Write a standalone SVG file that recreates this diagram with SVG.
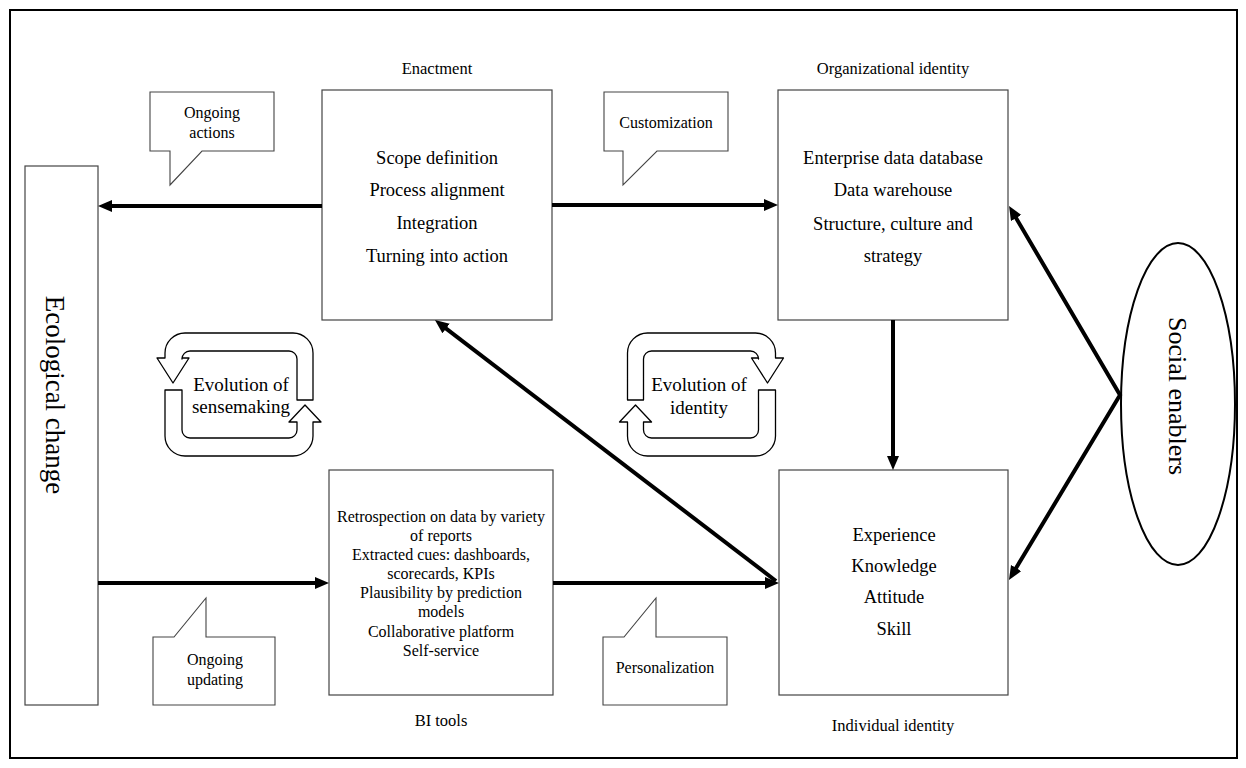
<svg xmlns="http://www.w3.org/2000/svg" width="1246" height="768" viewBox="0 0 1246 768">
<defs>
<style>
text{font-family:"Liberation Serif","Times New Roman",serif;fill:#000;text-anchor:middle}
.box{fill:#fff;stroke:#444;stroke-width:1.2}
.call{fill:#fff;stroke:#444;stroke-width:1.1}
.ttl{font-size:16.5px}
.t18{font-size:18.5px}
.t16{font-size:16px}
.ev{font-size:19px}
.bi{font-size:16px}
.conn{stroke:#000;stroke-width:4;fill:none}
.loop{fill:#fff;stroke:#000;stroke-width:1.3;stroke-linejoin:round}
</style>
<marker id="ah" markerUnits="userSpaceOnUse" markerWidth="16" markerHeight="14" refX="4" refY="6" orient="auto-start-reverse" viewBox="0 0 16 14">
<path d="M0,0 L14,6 L0,12 z" fill="#000"/>
</marker>
<g id="loopShape">
<path class="loop" d="M313,400 L313,353 A20,20 0 0 0 293,333 L185,333 A20,20 0 0 0 165,353 L165,358 L157,358 L173,383 L189,358 L182,358 L182,359 A8,8 0 0 1 190,351 L289,351 A8,8 0 0 1 297,359 L297,400 Z"/>
<path class="loop" d="M165,390 L165,436 A20,20 0 0 0 185,456 L293,456 A20,20 0 0 0 313,436 L313,422 L321,422 L305,405 L289,422 L297,422 L297,430 A8,8 0 0 1 289,438 L190,438 A8,8 0 0 1 182,430 L182,390 Z"/>
</g>
</defs>
<rect x="0" y="0" width="1246" height="768" fill="#fff"/>
<rect x="10" y="10" width="1227" height="748" fill="none" stroke="#000" stroke-width="2"/>

<g id="ecological-change">
<rect class="box" x="25" y="166" width="73" height="539"/>
<text transform="translate(55,395) rotate(90)" font-size="27" dy="9">Ecological change</text>
</g>

<g id="enactment">
<text class="ttl" x="437" y="74">Enactment</text>
<rect class="box" x="322" y="90" width="230" height="230"/>
<text class="t18" x="437" y="164">Scope definition</text>
<text class="t18" x="437" y="196">Process alignment</text>
<text class="t18" x="437" y="229">Integration</text>
<text class="t18" x="437" y="262">Turning into action</text>
</g>

<g id="organizational-identity">
<text class="ttl" x="893" y="74">Organizational identity</text>
<rect class="box" x="778" y="90" width="230" height="230"/>
<text class="t18" x="893" y="164">Enterprise data database</text>
<text class="t18" x="893" y="196">Data warehouse</text>
<text class="t18" x="893" y="230">Structure, culture and</text>
<text class="t18" x="893" y="262">strategy</text>
</g>

<g id="bi-tools">
<rect class="box" x="329" y="470" width="224" height="225"/>
<text class="bi" x="441" y="522">Retrospection on data by variety</text>
<text class="bi" x="441" y="541">of reports</text>
<text class="bi" x="441" y="560">Extracted cues: dashboards,</text>
<text class="bi" x="441" y="579">scorecards, KPIs</text>
<text class="bi" x="441" y="598">Plausibility by prediction</text>
<text class="bi" x="441" y="617">models</text>
<text class="bi" x="441" y="637">Collaborative platform</text>
<text class="bi" x="441" y="656">Self-service</text>
<text class="ttl" x="441" y="726">BI tools</text>
</g>

<g id="individual-identity">
<rect class="box" x="779" y="470" width="229" height="225"/>
<text class="t18" x="894" y="541">Experience</text>
<text class="t18" x="894" y="572">Knowledge</text>
<text class="t18" x="894" y="603">Attitude</text>
<text class="t18" x="894" y="635">Skill</text>
<text class="ttl" x="893" y="731">Individual identity</text>
</g>

<g id="social-enablers">
<ellipse cx="1178" cy="404" rx="57" ry="161" fill="#fff" stroke="#000" stroke-width="2"/>
<text transform="translate(1178,396) rotate(90)" font-size="26" dy="9">Social enablers</text>
</g>

<g id="callout-ongoing-actions">
<path class="call" d="M150,92 L274,92 L274,151 L202,151 L170,185 L170,151 L150,151 Z"/>
<text class="t16" x="212" y="118">Ongoing</text>
<text class="t16" x="212" y="138">actions</text>
</g>

<g id="callout-customization">
<path class="call" d="M604,92 L728,92 L728,151 L657,151 L623,185 L623,151 L604,151 Z"/>
<text class="t16" x="666" y="128">Customization</text>
</g>

<g id="callout-ongoing-updating">
<path class="call" d="M153,637 L174,637 L206,598 L206,637 L275,637 L275,705 L153,705 Z"/>
<text class="t16" x="215" y="665">Ongoing</text>
<text class="t16" x="215" y="685">updating</text>
</g>

<g id="callout-personalization">
<path class="call" d="M603,637 L624,637 L656,598 L656,637 L727,637 L727,705 L603,705 Z"/>
<text class="t16" x="665" y="673">Personalization</text>
</g>

<g id="evolution-of-sensemaking">
<use href="#loopShape"/>
<text class="ev" x="241" y="391">Evolution of</text>
<text class="ev" x="241" y="413">sensemaking</text>
</g>

<g id="evolution-of-identity">
<use href="#loopShape" transform="translate(940.5,0) scale(-1,1)"/>
<text class="ev" x="699" y="391">Evolution of</text>
<text class="ev" x="699" y="414">identity</text>
</g>

<g id="connectors">
<line class="conn" x1="322" y1="206" x2="108" y2="206" marker-end="url(#ah)"/>
<line class="conn" x1="552" y1="205" x2="768" y2="205" marker-end="url(#ah)"/>
<line class="conn" x1="98" y1="583" x2="319" y2="583" marker-end="url(#ah)"/>
<line class="conn" x1="553" y1="583" x2="769" y2="583" marker-end="url(#ah)"/>
<line class="conn" x1="776" y1="581" x2="442.9" y2="326.1" marker-end="url(#ah)"/>
<line class="conn" x1="893" y1="320" x2="893" y2="460" marker-end="url(#ah)"/>
<polyline class="conn" points="1014.1,214.6 1120,395 1014.1,571.4" stroke-linejoin="miter" marker-start="url(#ah)" marker-end="url(#ah)"/>
</g>
</svg>
